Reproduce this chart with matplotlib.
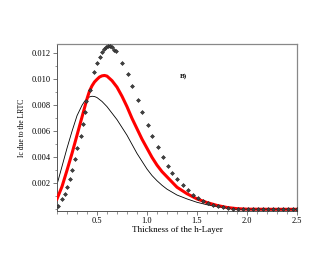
import numpy as np
import matplotlib
matplotlib.use('Agg')
import matplotlib.pyplot as plt
from matplotlib.ticker import MultipleLocator

# thin black curve
black_x = [0.10, 0.15, 0.20, 0.25, 0.30, 0.35, 0.375, 0.40, 0.425, 0.45, 0.475,
           0.50, 0.55, 0.60, 0.65, 0.70, 0.75, 0.80, 0.85, 0.90, 0.95, 1.00,
           1.05, 1.10, 1.15, 1.20, 1.30, 1.40, 1.50, 1.60, 1.70, 1.80, 1.90,
           2.00, 2.25, 2.50]
black_y = [0.0019, 0.0033, 0.0047, 0.0060, 0.0072, 0.0080, 0.0083, 0.0085,
           0.00865, 0.0087, 0.00868, 0.0086, 0.0083, 0.0079, 0.0074, 0.0069,
           0.0063, 0.0057, 0.0050, 0.0043, 0.0037, 0.0031, 0.0026, 0.0022,
           0.00185, 0.00155, 0.0011, 0.0008, 0.00054, 0.00035, 0.0002, 0.0001,
           0.00004, 0.00001, 0.0, 0.0]

# thick red curve
red_x = [0.10, 0.15, 0.20, 0.25, 0.30, 0.35, 0.375, 0.40, 0.425, 0.45, 0.475,
         0.50, 0.525, 0.55, 0.575, 0.60, 0.65, 0.70, 0.75, 0.80, 0.85, 0.90,
         0.95, 1.00, 1.05, 1.10, 1.15, 1.20, 1.25, 1.30, 1.35, 1.40, 1.50,
         1.60, 1.70, 1.80, 1.90, 2.00, 2.25, 2.50]
red_y = [0.0008, 0.00175, 0.0030, 0.0043, 0.0057, 0.0071, 0.0078, 0.0085,
         0.0091, 0.0095, 0.0098, 0.0100, 0.01018, 0.01027, 0.0103, 0.01025,
         0.0099, 0.0094, 0.0087, 0.0079, 0.0070, 0.0062, 0.0054, 0.0047,
         0.0040, 0.0034, 0.0029, 0.0025, 0.0021, 0.0017, 0.00145, 0.0012,
         0.0008, 0.00052, 0.0003, 0.00014, 0.00005, 0.00001, 0.0, 0.0]

# point series
dot_x = [0.107, 0.153, 0.18, 0.203, 0.23, 0.253, 0.28, 0.303, 0.337, 0.357, 0.377,
         0.39, 0.43, 0.475, 0.505, 0.527, 0.55, 0.573, 0.595, 0.615, 0.635, 0.655,
         0.675, 0.693, 0.755, 0.81, 0.853, 0.907, 0.95, 1.007, 1.055, 1.107, 1.157,
         1.207, 1.253, 1.305, 1.357, 1.407, 1.457, 1.507, 1.557, 1.607, 1.657,
         1.707, 1.757, 1.807, 1.857, 1.907, 1.957, 2.007, 2.057, 2.107, 2.157,
         2.207, 2.257, 2.307, 2.357, 2.407, 2.457, 2.5]
dot_y = [0.00028, 0.00079, 0.00118, 0.00169, 0.00231, 0.00305, 0.00387, 0.00474,
         0.00564, 0.00656, 0.00746, 0.00833, 0.0092, 0.0106, 0.01123, 0.01172,
         0.01208, 0.01231, 0.01248, 0.01256, 0.01256, 0.01248, 0.01229, 0.01217,
         0.01129, 0.01041, 0.00952, 0.00841, 0.00751, 0.00651, 0.00564, 0.00477,
         0.00405, 0.00335, 0.00282, 0.00233, 0.00187, 0.00148, 0.0011, 0.00085,
         0.00064, 0.00046, 0.00035, 0.00025, 0.00015, 0.00009, 0.00006, 0.00004,
         0.00003, 0.00002, 0.00001, 0.00001, 0.0, 0.0, 0.0, 0.0, 0.0, 0.0, 0.0, 0.0]

plt.rcParams['font.family'] = ['Liberation Serif', 'DejaVu Serif']

fig = plt.figure(figsize=(3.27, 2.73), dpi=100)
ax = fig.add_axes([0.1743, 0.2271, 0.7339, 0.6117])

ax.plot(black_x, black_y, color='black', lw=0.6, zorder=2)
ax.plot(red_x, red_y, color='red', lw=2.2, zorder=3, solid_joinstyle='round')
ax.plot(dot_x, dot_y, ls='none', marker='D', ms=2.0, mfc='#444444',
        mec='#222222', mew=0.4, zorder=4)

ax.set_xlim(0.1, 2.5)
ax.set_ylim(-0.00013, 0.01272)

ax.xaxis.set_minor_locator(MultipleLocator(0.1))
ax.yaxis.set_minor_locator(MultipleLocator(0.001))
ax.set_yticks([0.002, 0.004, 0.006, 0.008, 0.010, 0.012])
ax.set_yticklabels(['0.002', '0.004', '0.006', '0.008', '0.010', '0.012'])
ax.set_xticks([0.5, 1.0, 1.5, 2.0, 2.5])
ax.set_xticklabels(['0.5', '1.0', '1.5', '2.0', '2.5'])

ax.tick_params(which='major', length=3, width=0.5, labelsize=6, pad=1.5,
               color='#444444')
ax.tick_params(which='minor', length=1.8, width=0.4, color='#444444')

for s in ['left', 'bottom']:
    ax.spines[s].set_color('#555555')
    ax.spines[s].set_linewidth(0.7)
for s in ['top', 'right']:
    ax.spines[s].set_color('#888888')
    ax.spines[s].set_linewidth(0.9)

ax.set_xlabel('Thickness of the h-Layer', fontsize=6.5, labelpad=0.5)
ax.set_ylabel('Ic due to the LRTC', fontsize=5.5, labelpad=4)

ax.text(1.36, 0.01025, 'B)', fontsize=5, fontweight='bold', ha='center', va='center')

fig.savefig('out.png', dpi=100)
